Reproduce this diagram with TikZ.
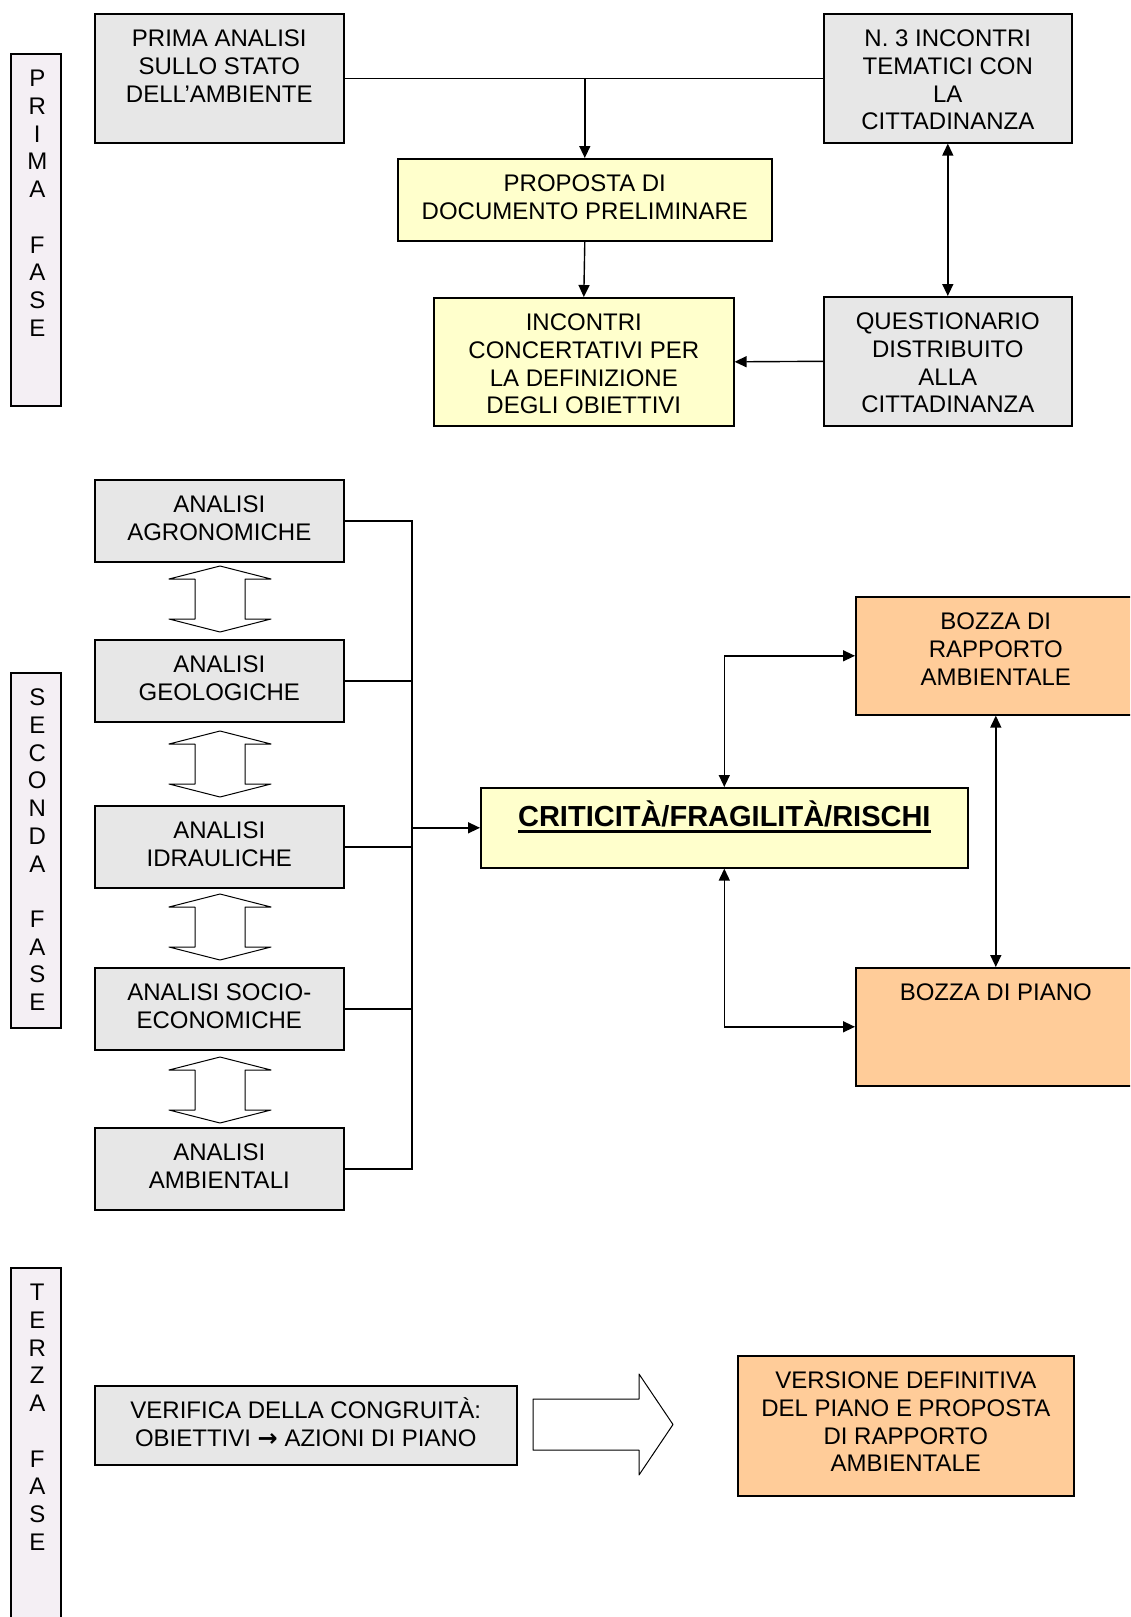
\documentclass[tikz,border=0pt]{standalone}
\usepackage{fontspec}
\setmainfont{Liberation Sans}
\newfontfamily\symfont{DejaVu Sans}
\usetikzlibrary{arrows.meta}

\definecolor{boxgray}{RGB}{231,231,231}
\definecolor{boxyellow}{RGB}{255,255,204}
\definecolor{boxorange}{RGB}{255,204,153}
\definecolor{phasepink}{RGB}{244,239,244}

\newsavebox{\ulbox}
\newcommand{\thickul}[1]{\sbox{\ulbox}{#1}\rlap{\vrule height -3pt depth 6pt width \wd\ulbox}\usebox{\ulbox}}
\newcommand{\boxtext}[3]{\parbox[c][#2][t]{#1}{\centering\rule{0pt}{33pt}#3}}

\begin{document}
\begin{tikzpicture}[x=1pt, y=-1pt, >={Triangle[length=12pt,width=11pt]},
    every node/.style={font=\fontsize{24}{27.7}\selectfont},
    box/.style={draw, line width=1.6pt, inner sep=0pt, anchor=north west},
    graybox/.style={box, fill=boxgray},
    yellowbox/.style={box, fill=boxyellow},
    orangebox/.style={box, fill=boxorange},
    phasebar/.style={box, fill=phasepink},
    link/.style={line width=1.4pt},
    blockarrow/.style={draw, fill=white, line width=1pt, line join=round}]
    \useasboundingbox (0,0) rectangle (1130,1617);
    \clip (0,0) rectangle (1130,1617);

    % prima fase
    \node[phasebar] (fase1) at (10,53) {\boxtext{50pt}{352pt}{\hspace*{3pt}P\\\hspace*{3pt}R\\\hspace*{3pt}I\\\hspace*{3pt}M\\\hspace*{3pt}A\\~\\\hspace*{3pt}F\\\hspace*{3pt}A\\\hspace*{3pt}S\\\hspace*{3pt}E}};
    \node[graybox] (prima) at (94,13) {\boxtext{249pt}{129pt}{PRIMA ANALISI\\SULLO STATO\\DELL’AMBIENTE}};
    \node[graybox] (incontri) at (823,13) {\boxtext{248pt}{129pt}{N. 3 INCONTRI\\TEMATICI CON\\LA\\CITTADINANZA}};
    \node[yellowbox] (proposta) at (397,158) {\boxtext{374pt}{82pt}{PROPOSTA DI\\DOCUMENTO PRELIMINARE}};
    \node[yellowbox] (concerto) at (433,297) {\boxtext{300pt}{128pt}{INCONTRI\\CONCERTATIVI PER\\LA DEFINIZIONE\\DEGLI OBIETTIVI}};
    \node[graybox] (questionario) at (823,296) {\boxtext{248pt}{129pt}{QUESTIONARIO\\DISTRIBUITO\\ALLA\\CITTADINANZA}};

    \coordinate (split) at (proposta.north |- prima.east);
    \draw[link] (prima.east) -- (incontri.west);
    \draw[link,->] (split) -- (proposta.north);
    \draw[link,->] (proposta.south) -- (concerto.north);
    \draw[link,<->] (incontri.south) -- (questionario.north);
    \draw[link,->] (questionario.west) -- (concerto.east);

    % seconda fase
    \node[phasebar] (fase2) at (10,672) {\boxtext{50pt}{355pt}{\hspace*{3pt}S\\\hspace*{3pt}E\\\hspace*{3pt}C\\\hspace*{3pt}O\\\hspace*{3pt}N\\\hspace*{3pt}D\\\hspace*{3pt}A\\~\\\hspace*{3pt}F\\\hspace*{3pt}A\\\hspace*{3pt}S\\\hspace*{3pt}E}};
    \node[graybox] (agro) at (94,479) {\boxtext{249pt}{82pt}{ANALISI\\AGRONOMICHE}};
    \node[graybox] (geo) at (94,639) {\boxtext{249pt}{82pt}{ANALISI\\GEOLOGICHE}};
    \node[graybox] (idro) at (94,805) {\boxtext{249pt}{82pt}{ANALISI\\IDRAULICHE}};
    \node[graybox] (socio) at (94,967) {\boxtext{249pt}{82pt}{ANALISI SOCIO-\\ECONOMICHE}};
    \node[graybox] (amb) at (94,1127) {\boxtext{249pt}{82pt}{ANALISI\\AMBIENTALI}};

    \draw[blockarrow] (220,566) -- ++(51,13) -- ++(-26,0) -- ++(0,40) -- ++(26,0) -- ++(-51,13) -- ++(-51,-13) -- ++(26,0) -- ++(0,-40) -- ++(-26,0) -- cycle;
    \draw[blockarrow] (220,731) -- ++(51,13) -- ++(-26,0) -- ++(0,40) -- ++(26,0) -- ++(-51,13) -- ++(-51,-13) -- ++(26,0) -- ++(0,-40) -- ++(-26,0) -- cycle;
    \draw[blockarrow] (220,894) -- ++(51,13) -- ++(-26,0) -- ++(0,40) -- ++(26,0) -- ++(-51,13) -- ++(-51,-13) -- ++(26,0) -- ++(0,-40) -- ++(-26,0) -- cycle;
    \draw[blockarrow] (220,1057) -- ++(51,13) -- ++(-26,0) -- ++(0,40) -- ++(26,0) -- ++(-51,13) -- ++(-51,-13) -- ++(26,0) -- ++(0,-40) -- ++(-26,0) -- cycle;

    \node[yellowbox] (crit) at (480,787) {\parbox[c][80pt][t]{487pt}{\centering\fontsize{29}{33}\selectfont\bfseries\rule{0pt}{39pt}\thickul{CRITICITÀ/FRAGILITÀ/RISCHI}}};
    \node[orangebox] (rapporto) at (855,596) {\boxtext{280pt}{118pt}{BOZZA DI\\RAPPORTO\\AMBIENTALE}};
    \node[orangebox] (piano) at (855,967) {\boxtext{280pt}{118pt}{BOZZA DI PIANO}};

    \coordinate (bus) at (412,0);
    \draw[link] (agro.east) -- (agro.east -| bus) -- (amb.east -| bus) -- (amb.east);
    \draw[link] (geo.east) -- (geo.east -| bus);
    \draw[link] (idro.east) -- (idro.east -| bus);
    \draw[link] (socio.east) -- (socio.east -| bus);
    \draw[link,->] (crit.west -| bus) -- (crit.west);
    \draw[link,<->] (crit.north) |- (rapporto.west);
    \draw[link,<->] (crit.south) |- (piano.west);
    \draw[link,<->] (rapporto.south) -- (piano.north);

    % terza fase
    \node[phasebar] (fase3) at (10,1267) {\boxtext{50pt}{400pt}{\hspace*{3pt}T\\\hspace*{3pt}E\\\hspace*{3pt}R\\\hspace*{3pt}Z\\\hspace*{3pt}A\\~\\\hspace*{3pt}F\\\hspace*{3pt}A\\\hspace*{3pt}S\\\hspace*{3pt}E}};
    \node[graybox] (verifica) at (94,1385) {\boxtext{422pt}{79pt}{VERIFICA DELLA CONGRUITÀ:\\OBIETTIVI {\symfont\bfseries →} AZIONI DI PIANO}};
    \node[orangebox] (versione) at (737,1355) {\boxtext{336pt}{140pt}{VERSIONE DEFINITIVA\\DEL PIANO E PROPOSTA\\DI RAPPORTO\\AMBIENTALE}};
    \draw[blockarrow] (533,1399) -- ++(106,0) -- ++(0,-25) -- ++(34,50.5) -- ++(-34,50.5) -- ++(0,-25) -- ++(-106,0) -- cycle;
\end{tikzpicture}
\end{document}
